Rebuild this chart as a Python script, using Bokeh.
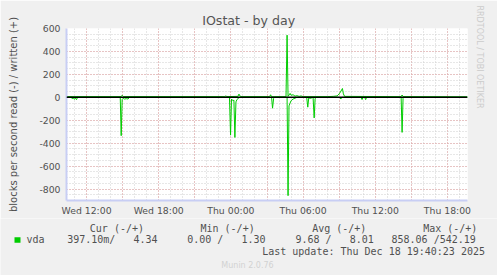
from bokeh.plotting import figure
from bokeh.layouts import column
from bokeh.models import Range1d, FixedTicker, Span, Title
from bokeh.core.properties import value
from bokeh.embed import file_html
from bokeh.resources import INLINE

# ---------------- data ----------------
title_text = "IOstat - by day"
y_axis_text = "blocks per second read (-) / written (+)"
side_text = "RRDTOOL / TOBI OETIKER"
footer_text = "Munin 2.0.76"

# time in hours since Wed 00:00
x_start, x_end = 10.333, 43.667
tick_hours = [12, 18, 24, 30, 36, 42]
tick_labels = ["Wed 12:00", "Wed 18:00", "Thu 00:00", "Thu 06:00", "Thu 12:00", "Thu 18:00"]
y_ticks = [-800, -600, -400, -200, 0, 200, 400, 600]
y_tick_labels = ["-800", "-600", "-400", "-200", "0", "200", "400", "600"]
y_min, y_max = -900, 600

# blocks read per second (drawn negative)
read_t = [10.33, 10.75, 10.83, 10.92, 11.00, 11.08, 11.17, 11.25,
          14.80, 14.88, 14.96, 15.05, 15.15, 15.30, 15.45, 15.55,
          23.88, 23.97, 24.05, 24.17, 24.25, 24.33, 24.42, 24.50, 24.60, 24.75,
          27.38, 27.46, 27.55, 27.63,
          28.67, 28.75, 28.83, 28.92, 29.00, 29.17, 29.33, 29.50,
          30.30, 30.39, 30.47, 30.60, 30.83, 30.92, 31.00, 31.10,
          33.05, 33.14, 33.22,
          34.82, 34.90, 34.98, 35.12, 35.20, 35.28,
          38.15, 38.23, 38.31, 38.40, 43.67]
read_v = [0, 0, 15, 5, 18, 8, 20, 0,
          0, 335, 20, 10, 15, 12, 15, 0,
          0, 330, 15, 30, 25, 350, 40, 20, 10, 0,
          0, 95, 10, 0,
          0, 858, 75, 50, 30, 15, 8, 0,
          0, 86, 5, 10, 0, 180, 10, 0,
          0, 15, 0,
          0, 20, 0, 0, 20, 0,
          0, 306, 10, 0, 0.397]

# blocks written per second
write_t = [10.33, 14.88, 14.96, 15.05, 23.50, 23.58, 23.67,
           24.58, 24.67, 24.75, 24.83, 27.22, 27.30, 27.38,
           28.58, 28.67, 28.75, 28.83, 28.92, 29.00, 29.17, 29.33, 29.50, 29.67, 29.83, 30.00,
           32.00, 32.50, 32.83, 33.00, 33.10, 33.27, 33.35, 33.45,
           38.15, 38.23, 38.31, 43.67]
write_v = [6, 6, 18, 6, 6, 12, 6,
           8, 28, 12, 6, 6, 22, 5,
           6, 542, 8, 20, 34, 18, 22, 10, 14, 8, 12, 6,
           6, 8, 12, 30, 45, 77, 30, 8,
           6, 20, 6, 4.34]

legend_name = "vda"
legend_headers = ["Cur (-/+)", "Min (-/+)", "Avg (-/+)", "Max (-/+)"]
legend_values = ["397.10m/   4.34", "0.00 /   1.30", "9.68 /   8.01", "858.06 /542.19"]
last_update = "Last update: Thu Dec 18 19:40:23 2025"

# ---------------- styles ----------------
W, H = 497, 275
FL, FT, FR, FB = 66, 28, 467, 203
H1 = 218                     # height of the chart part; the legend part fills the rest
GREEN = "#00CC00"
TXT = "#505050"
BG = "#F0F0F0"
AXIS = "#C8CEF4"
MONO = "DejaVu Sans Mono"
NB = "\u00a0"

p = figure(width=W, height=H1, output_backend="svg", toolbar_location=None,
           x_range=Range1d(x_start, x_end), y_range=Range1d(y_min, y_max),
           min_border_left=FL, min_border_right=W - FR, min_border_top=FT,
           min_border_bottom=H1 - FB)
p.border_fill_color = BG
p.background_fill_color = "white"
p.outline_line_color = None

# grids
xg_major = [h for h in range(12, 44, 3)]
xg_minor = [h for h in range(11, 44)]
p.xgrid.ticker = FixedTicker(ticks=xg_major, minor_ticks=xg_minor)
yg_minor = list(range(-900, 601, 50))
p.ygrid.ticker = FixedTicker(ticks=y_ticks, minor_ticks=yg_minor)
for g in (p.xgrid, p.ygrid):
    g.grid_line_color = "#E6A0A0"
    g.grid_line_dash = "1 2"
    g.grid_line_width = 1
    g.minor_grid_line_color = "#CFCFCF"
    g.minor_grid_line_dash = "1 2"
    g.minor_grid_line_width = 1

# axes
p.xaxis.ticker = FixedTicker(ticks=tick_hours)
p.xaxis.major_label_overrides = {h: l for h, l in zip(tick_hours, tick_labels)}
p.yaxis.ticker = FixedTicker(ticks=y_ticks)
p.yaxis.major_label_overrides = {v: l for v, l in zip(y_ticks, y_tick_labels)}
for ax in (p.xaxis, p.yaxis):
    ax.axis_line_color = AXIS
    ax.axis_line_width = 2
    ax.major_tick_line_color = None
    ax.minor_tick_line_color = None
    ax.major_tick_out = 0
    ax.major_tick_in = 0
    ax.major_label_text_font = "DejaVu Sans"
    ax.major_label_text_font_size = "9.3px"
    ax.major_label_text_color = TXT
p.xaxis.major_label_standoff = 4
p.yaxis.major_label_standoff = 6
p.yaxis.axis_label = y_axis_text
p.yaxis.axis_label_text_font = "DejaVu Sans"
p.yaxis.axis_label_text_font_size = "10px"
p.yaxis.axis_label_text_font_style = "normal"
p.yaxis.axis_label_text_color = TXT
p.yaxis.axis_label_standoff = 17

# data lines
p.line(write_t, write_v, line_color=GREEN, line_width=1)
p.line(read_t, [-v for v in read_v], line_color=GREEN, line_width=1)
p.add_layout(Span(location=0, dimension="width", line_color="black", line_width=1.6))

# title (above) and side text (right)
p.title.text = title_text
p.title.align = "left"
p.title.offset = 201.7 - FL
p.title.text_font = "DejaVu Sans"
p.title.text_font_size = "12.6px"
p.title.text_font_style = "normal"
p.title.text_color = "#555555"
p.title.standoff = 2

p.add_layout(Title(text=side_text, align="left", offset=5 - FT,
                   text_font="DejaVu Sans", text_font_size="8px",
                   text_font_style="normal", text_color="#CCCCCC", standoff=15), "right")

# ---------------- legend part (page pixel coordinates, y downwards) ----------------
q = figure(width=W, height=H - H1, output_backend="svg", toolbar_location=None,
           x_range=Range1d(0, W), y_range=Range1d(H, H1),
           x_axis_location=None, y_axis_location=None,
           min_border=0, min_border_left=0, min_border_right=0,
           min_border_top=0, min_border_bottom=0)
q.border_fill_color = BG
q.background_fill_color = BG
q.outline_line_color = None
q.grid.visible = False
for fig in (p, q):
    try:
        fig.frame_align = False
    except Exception:
        pass

def nb(s):
    return s.replace(" ", NB)

def txt(xs, y, texts, size="10px", font=MONO, color=TXT, align="left"):
    q.text(x=xs, y=[y] * len(xs), text=[nb(t) for t in texts],
           text_font=value(font), text_font_size=value(size), text_color=color,
           text_align=align, text_baseline="middle")

txt([89.3, 200, 311.7, 422.7], 227.5, legend_headers)
q.quad(left=[14], right=[20], top=[236.7], bottom=[242.3], fill_color=GREEN, line_color=None)
txt([26], 239, [legend_name])
txt([66.7, 186.7, 295, 391], 239, legend_values)
txt([261.7], 250.7, [last_update])
txt([247], 264.5, [footer_text], size="8px", font="DejaVu Sans", color="#D2D2D2", align="center")

layout = column(p, q, spacing=0)
open("out.html", "w").write(file_html(layout, INLINE))
